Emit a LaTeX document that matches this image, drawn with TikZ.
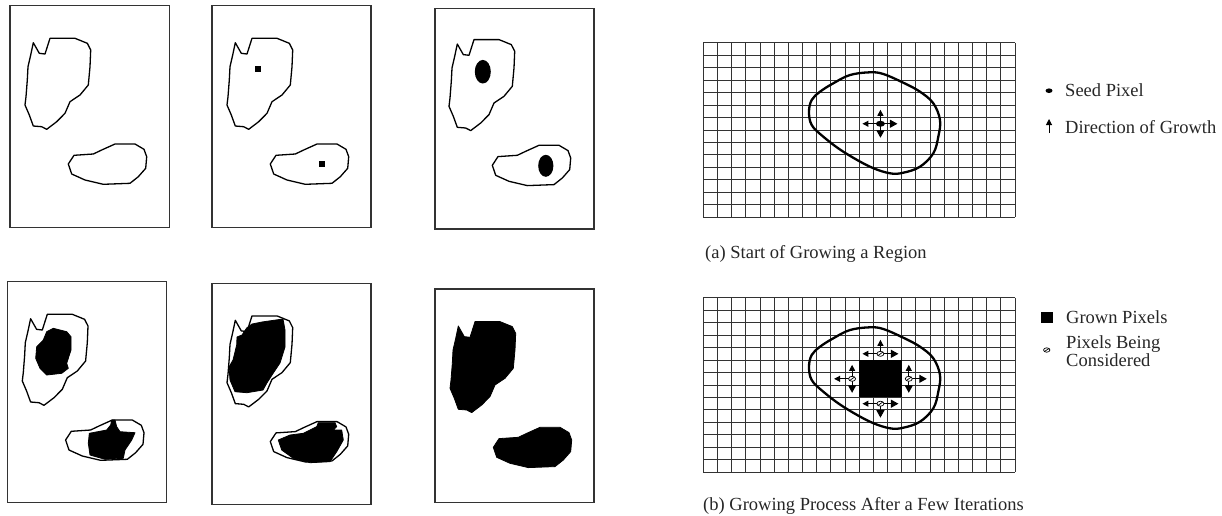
\documentclass[tikz,border=0pt]{standalone}
\usepackage{fontspec}
\setmainfont{Liberation Serif}
\usetikzlibrary{arrows.meta}
\begin{document}
\begin{tikzpicture}[x=1pt,y=-1pt,
  panel/.style={draw=black!80,line width=1.4pt},
  outline/.style={draw=black,line width=1.3pt,line join=round},
  solid/.style={fill=black,draw=black,line width=0.8pt,line join=round},
  gridline/.style={draw=black!80,line width=0.9pt},
  region/.style={draw=black,line width=2.3pt},
  lbl/.style={inner sep=0pt,font=\fontsize{18.5}{20}\selectfont,text=black!85},
  arrsmall/.style={line width=1pt,-{Triangle[length=6pt,width=6pt]}},
  arrbig/.style={line width=1pt,-{Triangle[length=7.5pt,width=8pt]}},
  consid/.style={draw=black,line width=0.7pt}
]
\useasboundingbox (0,0) rectangle (1222,515);
\def\bigblob{(23.3,37) -- (29.3,47.6) -- (35,48.3) -- (40,32.6) -- (65,32.6) -- (77.3,37.6) -- (80.7,44.3) -- (80,61) -- (78.3,79.3) -- (70,89.3) -- (60,96) -- (55,107.6) -- (46.7,116) -- (36.7,123.6) -- (31.7,121) -- (23.3,120.3) -- (19.3,109.3) -- (15,99.3) -- (16,91) -- (17.3,74.3) -- (18,61) -- (20.7,49.3) -- cycle}
\def\smallblob{(58.3,158.3) -- (64,149.6) -- (83.3,148.3) -- (91.7,144.3) -- (105,138.3) -- (125,138.3) -- (134,143.6) -- (136.7,151) -- (135.7,162.6) -- (128.3,171) -- (120,177.6) -- (93.3,178.6) -- (75,174.3) -- (61.7,168.3) -- cycle}
% ---------- panels ----------
\draw[panel] (10,5.7) rectangle (169.3,227.7);
\draw[panel] (212,5.7) rectangle (371,227.7);
\draw[panel] (435,8.3) rectangle (594,229);
\draw[panel] (7.3,281.7) rectangle (166.7,502.3);
\draw[panel] (212,283.3) rectangle (371,504.3);
\draw[panel] (435,289) rectangle (594,502.7);
% panel 1
\begin{scope}[shift={(10,5.7)}]
  \draw[outline] \bigblob; \draw[outline] \smallblob;
\end{scope}
% panel 2
\begin{scope}[shift={(212,5.7)}]
  \draw[outline] \bigblob; \draw[outline] \smallblob;
\end{scope}
\fill (255.3,66) rectangle (261.3,72);
\fill (318.7,161) rectangle (324.7,167);
% panel 3
\begin{scope}[shift={(434,7)}]
  \draw[outline] \bigblob; \draw[outline] \smallblob;
\end{scope}
\fill (482.8,71.7) ellipse [x radius=8pt,y radius=11.8pt];
\fill (545.8,165.8) ellipse [x radius=7.6pt,y radius=11pt];
% panel 4
\begin{scope}[shift={(7.3,281.7)}]
  \draw[outline] \bigblob; \draw[outline] \smallblob;
\end{scope}
\draw[solid] (53.3,328.3) -- (66.7,331.7) -- (71,336.7) -- (71,350) -- (66.7,363.3) -- (68.3,368.3) -- (61.7,373.3) -- (46.7,375) -- (40,368.3) -- (35.7,358.3) -- (36.7,346.7) -- (43.3,340) -- (46.7,331.7) -- cycle;
\draw[solid] (89.3,433.3) -- (106.7,430) -- (110.7,425) -- (111.7,420) -- (115,420) -- (116.7,426.7) -- (120,431.7) -- (135,432.7) -- (131.7,440) -- (125,450) -- (123.3,458.3) -- (105,459.3) -- (90,455) -- (88.3,443.3) -- cycle;
% panel 5
\begin{scope}[shift={(212,283.3)}]
  \draw[outline] \bigblob; \draw[outline] \smallblob;
\end{scope}
\draw[solid] (246.7,328) -- (252,324) -- (262,322) -- (283,319) -- (285,330) -- (285,347) -- (280,363) -- (272,375) -- (266.7,383.3) -- (263,390) -- (247,392.7) -- (235,391.7) -- (230,380) -- (229,367) -- (233,360) -- (236.7,345) -- (237,337) -- (242,335) -- cycle;
\draw[solid] (278.3,440) -- (290,435) -- (303.3,433.3) -- (316.7,426.7) -- (318.3,422.7) -- (335,422.7) -- (336.7,426.7) -- (333.3,430) -- (341.7,430) -- (343.3,440) -- (336.7,451.7) -- (330,461.7) -- (310,462.7) -- (293.3,458.3) -- (281.7,450) -- cycle;
% panel 6
\begin{scope}[shift={(435,289)}]
  \draw[solid] \bigblob; \draw[solid] \smallblob;
\end{scope}
% ---------- grid (a) ----------
\foreach \i in {0,...,22} \draw[gridline] ({703.3+\i*14.17},42.7) -- ({703.3+\i*14.17},217.3);
\foreach \j in {0,...,14} \draw[gridline] (703.3,{42.7+\j*12.47}) -- (1015,{42.7+\j*12.47});
\draw[region] plot[smooth cycle,tension=0.6] coordinates {(809,111.7) (811.7,100) (820,91.7) (833.3,83.3) (850,75) (870,72.3) (883.3,74) (903.3,82.7) (920,91.7) (933.3,103.3) (940,120) (938.3,136.7) (933.3,153.3) (920,166.7) (903.3,172.7) (890,173.3) (870,166.7) (843.3,151.7) (823.3,136.7) (811.7,125)};
\coordinate (seed) at (880.43,123.76);
\draw[arrsmall] (seed) -- ++(0,-14);
\draw[arrsmall] (seed) -- ++(-18,0);
\draw[arrbig] (seed) -- ++(17,0);
\draw[arrbig] (seed) -- ++(0,14);
\fill (seed) ellipse [x radius=4.5pt,y radius=3pt];
% ---------- grid (b) ----------
\foreach \i in {0,...,22} \draw[gridline] ({703.3+\i*14.17},297.7) -- ({703.3+\i*14.17},472.3);
\foreach \j in {0,...,14} \draw[gridline] (703.3,{297.7+\j*12.47}) -- (1015,{297.7+\j*12.47});
\draw[region] plot[smooth cycle,tension=0.6] coordinates {(809,366.7) (811.7,355) (820,346.7) (833.3,338.3) (850,330) (870,327.3) (883.3,329) (903.3,337.7) (920,346.7) (933.3,358.3) (940,375) (938.3,391.7) (933.3,408.3) (920,421.7) (903.3,427.7) (890,428.3) (870,421.7) (843.3,406.7) (823.3,391.7) (811.7,380)};
\fill (859.17,360.05) rectangle (901.68,397.46);
\coordinate (ct) at (880.43,353.8);
\coordinate (cl) at (852.09,378.8);
\coordinate (cr) at (908.77,378.8);
\coordinate (cb) at (880.43,403.7);
\draw[arrsmall] (ct) -- ++(0,-14);
\draw[arrsmall] (ct) -- ++(-18,0);
\draw[arrbig] (ct) -- ++(18,0);
\draw[arrsmall] (cl) -- ++(0,-14);
\draw[arrsmall] (cl) -- ++(-18,0);
\draw[arrbig] (cl) -- ++(0,14);
\draw[arrsmall] (cr) -- ++(0,-14);
\draw[arrbig] (cr) -- ++(18,0);
\draw[arrbig] (cr) -- ++(0,14);
\draw[arrsmall] (cb) -- ++(-18,0);
\draw[arrbig] (cb) -- ++(18,0);
\draw[arrbig] (cb) -- ++(0,14);
\foreach \c in {ct,cl,cr,cb}{
  \filldraw[fill=white,consid] (\c) ellipse [x radius=3.5pt,y radius=2.5pt];
  \draw[consid] ([shift={(-2.5,1.8)}]\c) -- ([shift={(2.5,-1.8)}]\c);
}
% ---------- captions ----------
\node[lbl,anchor=base west] (capa) at (705,258) {(a) Start of Growing a Region};
\node[lbl,anchor=base west] (capb) at (703,510.5) {(b) Growing Process After a Few Iterations};
% ---------- legend ----------
\coordinate (lseed) at (1049,90.7);
\fill (lseed) ellipse [x radius=3.5pt,y radius=2.3pt];
\node[lbl,anchor=base west] (tseed) at (1065,96.5) {Seed Pixel};
\coordinate (ldirA) at (1049,133);
\coordinate (ldirB) at (1049,119);
\draw[arrsmall] (ldirA) -- (ldirB);
\node[lbl,anchor=base west] (tdir) at (1065,133) {Direction of Growth};
\fill (1040.7,312.3) rectangle (1052.7,322.7);
\node[lbl,anchor=base west] (tgrown) at (1066,323) {Grown Pixels};
\coordinate (lcons) at (1046.7,350);
\filldraw[fill=white,consid] (lcons) ellipse [x radius=3.2pt,y radius=2.2pt];
\draw[consid] ([shift={(-2.5,1.6)}]lcons) -- ([shift={(2.5,-1.6)}]lcons);
\node[lbl,anchor=base west] (tcons1) at (1066,348.5) {Pixels Being};
\node[lbl,anchor=base west] (tcons2) at (1066,366) {Considered};
\end{tikzpicture}
\end{document}
